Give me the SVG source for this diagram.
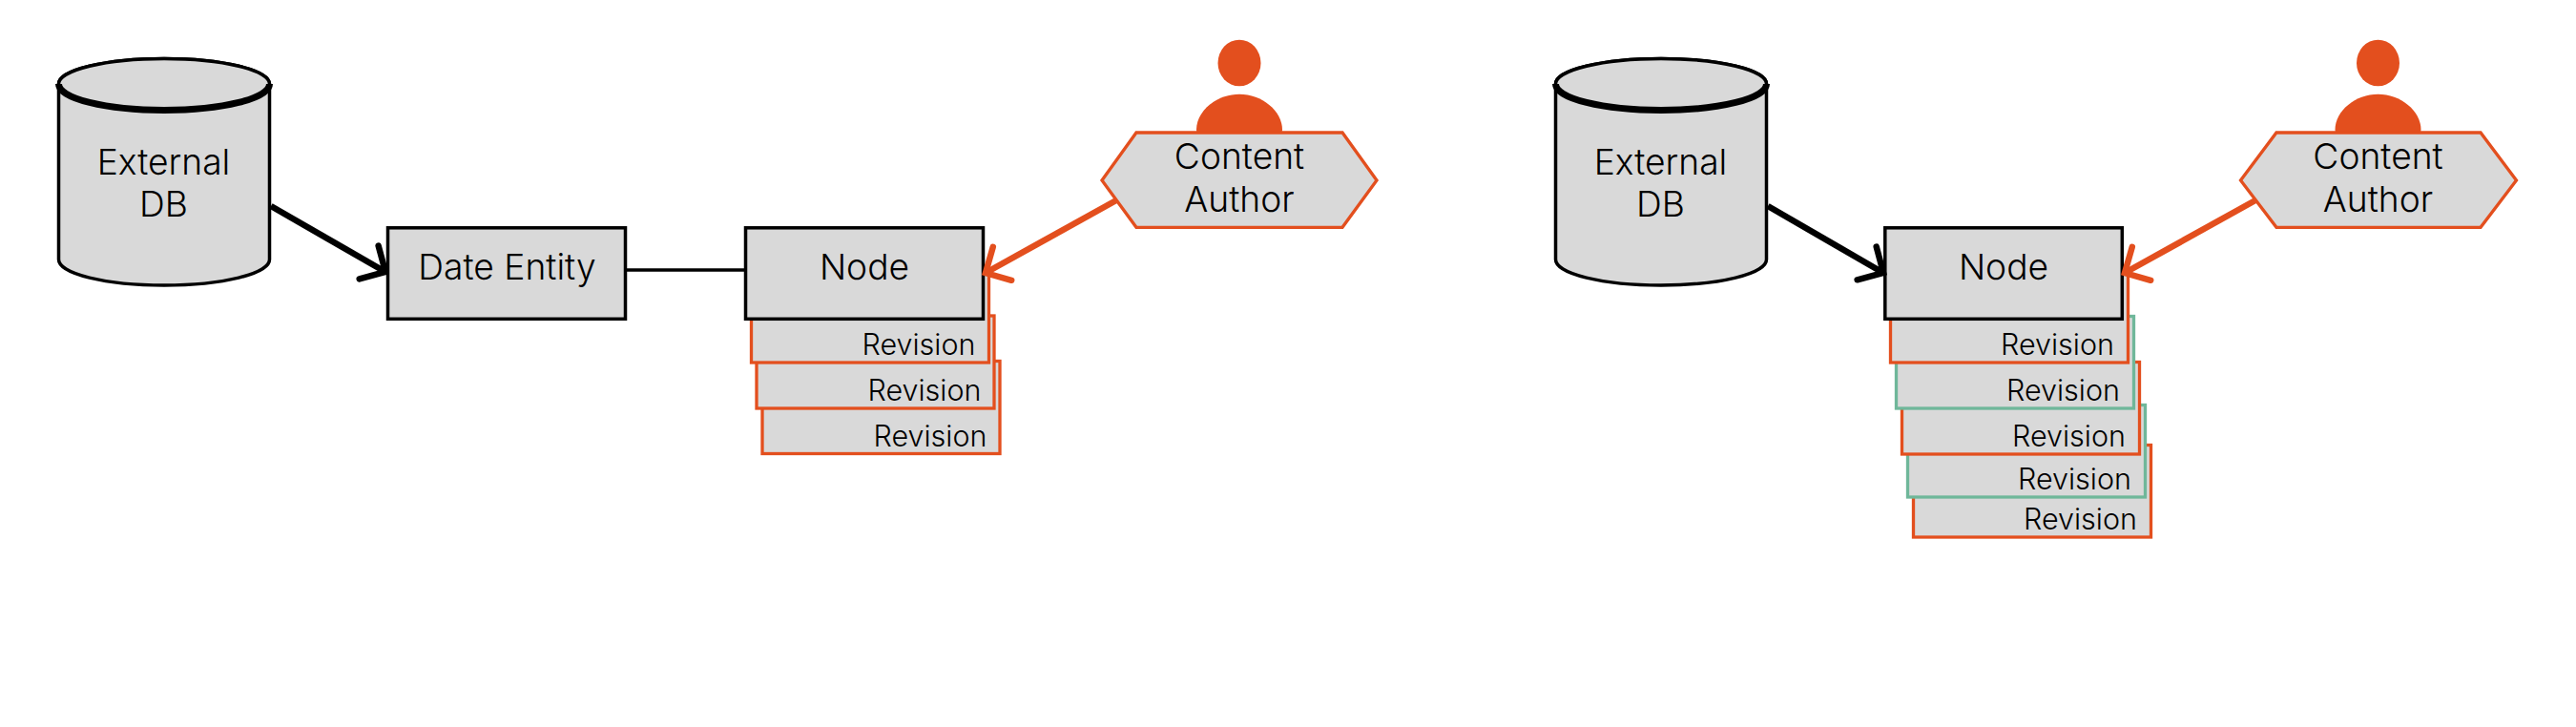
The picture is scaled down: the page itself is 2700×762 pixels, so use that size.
<svg xmlns="http://www.w3.org/2000/svg" width="2700" height="762" viewBox="0 0 2700 762">
<style>
text{font-family:"Inter","Liberation Sans",sans-serif;fill:#000;font-weight:300}
.l{font-size:37.200px;text-anchor:middle}
.r{font-size:30.500px;text-anchor:end}
.box{fill:#d9d9d9;stroke:#000;stroke-width:3.500}
.rev{fill:#d9d9d9;stroke-width:3.300}
.o{stroke:#e34f1e}
.g{stroke:#6fb79a}
.hex{fill:#d9d9d9;stroke:#e34f1e;stroke-width:3.300}
.p{fill:#e34f1e}
.c{fill:none;stroke-width:6.500}
.k{stroke:#000}
.rim{fill:none;stroke:#000;stroke-width:7}
</style>
<defs>
<marker id="ak" markerUnits="userSpaceOnUse" viewBox="-26 -26 32 52" markerWidth="32" markerHeight="52" refX="0" refY="0" orient="auto"><path d="M-20,-20L0,0L-20,20" fill="none" stroke="#000" stroke-width="6.500" stroke-linecap="round"/></marker>
<marker id="ao" markerUnits="userSpaceOnUse" viewBox="-26 -26 32 52" markerWidth="32" markerHeight="52" refX="0" refY="0" orient="auto"><path d="M-20,-20L0,0L-20,20" fill="none" stroke="#e34f1e" stroke-width="6.500" stroke-linecap="round"/></marker>
<g id="cyl">
<path class="box" d="M61.500,88V272A110.500,27 0 0 0 282.500,272V88A110.500,26.500 0 0 0 61.500,88Z"/>
<ellipse class="box" cx="172" cy="88" rx="110.500" ry="26.500"/>
<path class="rim" d="M61.500,88A110.500,27.500 0 0 0 282.500,88"/>
</g>
<g id="person">
<ellipse class="p" cx="1299" cy="66" rx="22.500" ry="24.300"/>
<path class="p" d="M1254,136C1254,116 1275.500,98.700 1299,98.700C1322.500,98.700 1344,116 1344,136Q1344,142 1337.500,142H1260.500Q1254,142 1254,136Z"/>
</g>
</defs>

<g id="external-db-1">
<use href="#cyl"/>
<text class="l" x="171.500" y="183">External</text>
<text class="l" x="171.500" y="227">DB</text>
</g>
<g id="date-entity">
<rect class="box" x="406.500" y="238.800" width="249" height="95.500"/>
<text class="l" x="531.500" y="292.500">Date Entity</text>
</g>
<g id="rev-a3"><rect class="rev o" x="799" y="378.500" width="249" height="97"/><text class="r" x="1034.500" y="468">Revision</text></g>
<g id="rev-a2"><rect class="rev o" x="793" y="331" width="249" height="97"/><text class="r" x="1028.500" y="420">Revision</text></g>
<g id="rev-a1"><rect class="rev o" x="787.500" y="283" width="249" height="97"/><text class="r" x="1022.500" y="372">Revision</text></g>
<g id="node-1">
<rect class="box" x="781.500" y="238.800" width="249" height="95.500"/>
<text class="l" x="906" y="292.500">Node</text>
</g>
<g id="author-1">
<use href="#person"/>
<polygon class="hex" points="1155,189 1191,139 1407,139 1443,189 1407,238.300 1191,238.300"/>
<text class="l" x="1299" y="177">Content</text>
<text class="l" x="1299" y="222">Author</text>
</g>

<g id="external-db-2">
<use href="#cyl" x="1569"/>
<text class="l" x="1740.500" y="183">External</text>
<text class="l" x="1740.500" y="227">DB</text>
</g>
<g id="rev-b5"><rect class="rev o" x="2005.500" y="466.500" width="249" height="96.500"/><text class="r" x="2240" y="555">Revision</text></g>
<g id="rev-b4"><rect class="rev g" x="1999.500" y="424.500" width="249" height="96.500"/><text class="r" x="2234" y="513">Revision</text></g>
<g id="rev-b3"><rect class="rev o" x="1993.500" y="379.500" width="249" height="96.500"/><text class="r" x="2228" y="468">Revision</text></g>
<g id="rev-b2"><rect class="rev g" x="1987.500" y="331.500" width="249" height="96.500"/><text class="r" x="2222" y="420">Revision</text></g>
<g id="rev-b1"><rect class="rev o" x="1981.500" y="283.500" width="249" height="96.500"/><text class="r" x="2216" y="372">Revision</text></g>
<g id="node-2">
<rect class="box" x="1975.800" y="238.800" width="248.500" height="95.500"/>
<text class="l" x="2100" y="292.500">Node</text>
</g>
<g id="author-2">
<use href="#person" x="1193.500"/>
<polygon class="hex" points="2348.500,189 2386,139 2600,139 2637.500,189 2600,238.300 2386,238.300"/>
<text class="l" x="2492.500" y="177">Content</text>
<text class="l" x="2492.500" y="222">Author</text>
</g>

<g id="connectors">
<path class="c k" d="M284,216L404,285" marker-end="url(#ak)"/>
<path d="M656,283H781" fill="none" stroke="#000" stroke-width="3.500"/>
<path class="c o" d="M1170,210L1033,286" marker-end="url(#ao)"/>
<path class="c k" d="M1853,216L1974,286" marker-end="url(#ak)"/>
<path class="c o" d="M2364,210L2227,286" marker-end="url(#ao)"/>
</g>
</svg>
